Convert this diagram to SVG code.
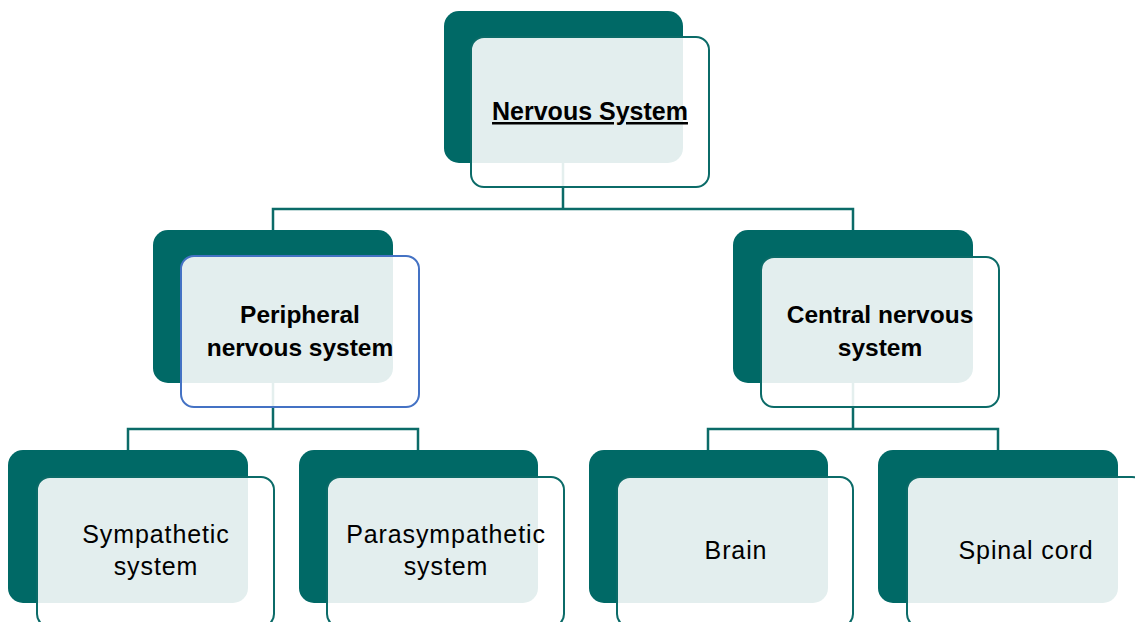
<svg xmlns="http://www.w3.org/2000/svg" width="1135" height="622" viewBox="0 0 1135 622">
<style>
.back{fill:#006966}
.front{fill:#ffffff;fill-opacity:0.89;stroke:#0b6b68;stroke-width:2}
.front.blue{stroke:#4472c4}
.conn{fill:none;stroke:#0b6b68;stroke-width:2.5}
.t{font-family:"Liberation Sans",Arial,sans-serif;fill:#000;text-anchor:middle}
.b{font-weight:bold;font-size:24.5px}
.r{font-size:25px;letter-spacing:0.9px}
</style>
<rect width="1135" height="622" fill="#ffffff"/>
<g id="connectors">
<path class="conn" d="M563 163V209M273 230V209H853V230"/>
<path class="conn" d="M273 383V429M128 450V429H418V450"/>
<path class="conn" d="M853 383V429M708 450V429H998V450"/>
</g>
<g id="node-nervous-system">
<rect class="back" x="444" y="11" width="239" height="152" rx="15"/>
<rect class="front" x="471" y="37" width="238" height="150" rx="13"/>
<text class="t b" x="590" y="120" font-size="25" style="font-size:25px" text-decoration="underline">Nervous System</text>
</g>
<g id="node-peripheral">
<rect class="back" x="153" y="230" width="240" height="153" rx="15"/>
<rect class="front blue" x="181" y="256" width="238" height="151" rx="13"/>
<text class="t b" x="300" y="323">Peripheral</text>
<text class="t b" x="300" y="356">nervous system</text>
</g>
<g id="node-central">
<rect class="back" x="733" y="230" width="240" height="153" rx="15"/>
<rect class="front" x="761" y="257" width="238" height="150" rx="13"/>
<text class="t b" x="880" y="323">Central nervous</text>
<text class="t b" x="880" y="356">system</text>
</g>
<g id="node-sympathetic">
<rect class="back" x="8" y="450" width="240" height="153" rx="15"/>
<rect class="front" x="37" y="477" width="237" height="150" rx="13"/>
<text class="t r" x="156" y="543">Sympathetic</text>
<text class="t r" x="156" y="575">system</text>
</g>
<g id="node-parasympathetic">
<rect class="back" x="299" y="450" width="239" height="153" rx="15"/>
<rect class="front" x="327" y="477" width="237" height="150" rx="13"/>
<text class="t r" x="446" y="543">Parasympathetic</text>
<text class="t r" x="446" y="575">system</text>
</g>
<g id="node-brain">
<rect class="back" x="589" y="450" width="239" height="153" rx="15"/>
<rect class="front" x="617" y="477" width="236" height="150" rx="13"/>
<text class="t r" x="736" y="559">Brain</text>
</g>
<g id="node-spinal-cord">
<rect class="back" x="878" y="450" width="240" height="153" rx="15"/>
<rect class="front" x="907" y="477" width="238" height="150" rx="13"/>
<text class="t r" x="1026" y="559">Spinal cord</text>
</g>
</svg>
